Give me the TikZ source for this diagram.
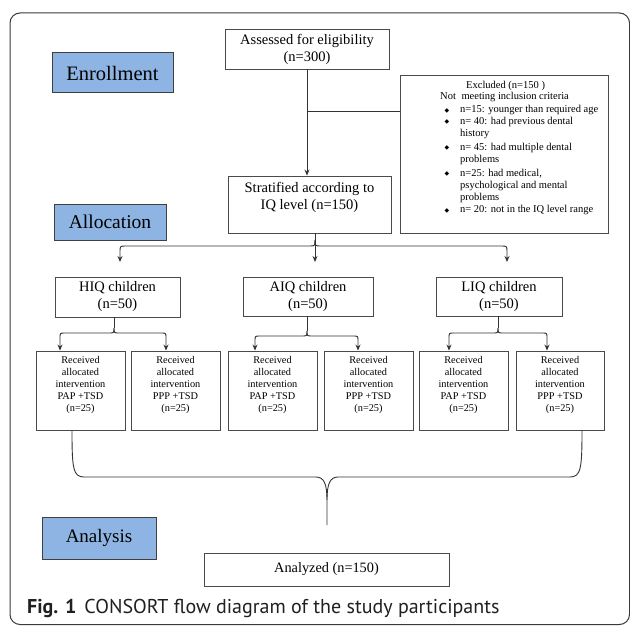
\documentclass[tikz,border=0pt]{standalone}
\usepackage{fontspec}
\setmainfont{Liberation Serif}
\newfontfamily\capfont{PT Sans}
\newfontfamily\symfont{DejaVu Sans}
\usetikzlibrary{arrows.meta,calc}
\definecolor{boxblue}{HTML}{8DB4E2}
\definecolor{phaseedge}{HTML}{404040}
\definecolor{edgegray}{HTML}{4A4A4A}
\definecolor{linegray}{HTML}{333333}
\definecolor{framegray}{HTML}{3A3A3A}
\definecolor{captext}{HTML}{231F20}
\newcommand\dpt[1]{\rule[-#1]{0pt}{#1}}
\newcommand\bul{\makebox[15.5pt][l]{\raisebox{0.6pt}{\symfont\fontsize{6}{6}\selectfont ◆}}}
\begin{document}
\begin{tikzpicture}[x=1pt,y=-1pt,
  box/.style={draw=edgegray,line width=0.9pt,rectangle,inner sep=0pt,align=center,text=black},
  phase/.style={draw=phaseedge,fill=boxblue,line width=1pt,rectangle,inner sep=0pt,text=black},
  conn/.style={draw=linegray,line width=0.9pt},
  arr/.style={conn,-{Stealth[length=6pt,width=5pt]}},
  exline/.style={anchor=base west,inner sep=0pt,font=\fontsize{10.5}{12}\selectfont},
  midtxt/.style={font=\fontsize{14.5}{17}\selectfont},
  subtxt/.style={font=\fontsize{10.3}{12}\selectfont,minimum width=89pt,minimum height=79pt}
]
\useasboundingbox (0,0) rectangle (630,626);
\fill[white] (0,0) rectangle (630,626);
\draw[draw=framegray,line width=1pt,rounded corners=10pt] (10,13) rectangle (629.5,624.5);

% phase labels
\node[phase,minimum width=121pt,minimum height=40pt,font=\fontsize{20.5}{24}\selectfont] (enroll) at (112.5,73) {Enrollment};
\node[phase,minimum width=112pt,minimum height=36pt,font=\fontsize{19.5}{23}\selectfont] (alloc) at (110,222) {Allocation};
\node[phase,minimum width=114pt,minimum height=42pt,font=\fontsize{19}{22}\selectfont] (analysis) at (99,538) {Analysis};

% main boxes
\node[box,midtxt,minimum width=164pt,minimum height=40pt] (assess) at (307,49) {Assessed for eligibility\\(n=300)};
\node[box,minimum width=208pt,minimum height=158pt] (excl) at (504,154) {};
\node[box,midtxt,minimum width=163pt,minimum height=57pt] (strat) at (309.5,204.5) {Stratified according to\\IQ level (n=150)\dpt{17.6pt}};

\node[box,midtxt,minimum width=125pt,minimum height=40pt] (hiq) at (117.5,297) {HIQ children\\(n=50)};
\node[box,midtxt,minimum width=130pt,minimum height=39pt] (aiq) at (308,296.5) {AIQ children\\(n=50)};
\node[box,midtxt,minimum width=126pt,minimum height=39pt] (liq) at (499,296.5) {LIQ children\\(n=50)};

\node[box,subtxt] (b1) at (80.5,390.5) {Received\\allocated\\intervention\\PAP +TSD\\(n=25)\dpt{12.3pt}};
\node[box,subtxt] (b2) at (175.5,390.5) {Received\\allocated\\intervention\\PPP +TSD\\(n=25)\dpt{12.3pt}};
\node[box,subtxt] (b3) at (272.5,390.5) {Received\\allocated\\intervention\\PAP +TSD\\(n=25)\dpt{12.3pt}};
\node[box,subtxt] (b4) at (368.5,390.5) {Received\\allocated\\intervention\\PPP +TSD\\(n=25)\dpt{12.3pt}};
\node[box,subtxt] (b5) at (463.5,390.5) {Received\\allocated\\intervention\\PAP +TSD\\(n=25)\dpt{12.3pt}};
\node[box,subtxt,minimum width=88pt] (b6) at (560,390.5) {Received\\allocated\\intervention\\PPP +TSD\\(n=25)\dpt{12.3pt}};

\node[box,minimum width=245pt,minimum height=33pt,font=\fontsize{14.3}{16}\selectfont] (analyzed) at (326.5,569.5) {Analyzed (n=150)};

% excluded box text
\node[exline] (ex0) at (466,88.5) {Excluded (n=150 )};
\node[exline] (ex1) at (440,99.2) {Not\hspace{3pt} meeting inclusion criteria};
\node[exline] (ex2) at (444.5,112.8) {\bul n=15: younger than required age};
\node[exline] (ex3) at (444.5,124.4) {\bul n= 40: had previous dental};
\node[exline] (ex4) at (460,136.6) {history};
\node[exline] (ex5) at (444.5,150.6) {\bul n= 45: had multiple dental};
\node[exline] (ex6) at (460,162.4) {problems};
\node[exline] (ex7) at (444.5,176.2) {\bul n=25: had medical,};
\node[exline] (ex8) at (460,188.2) {psychological and mental};
\node[exline] (ex9) at (460,200.0) {problems};
\node[exline] (ex10) at (444.5,212.8) {\bul n= 20: not in the IQ level range};

% enrollment connectors
\draw[arr] (assess.south) -- (assess.south |- strat.north);
\coordinate (j1) at (307,111);
\draw[conn] (j1) -- (j1 -| excl.west);

% stratified brace
\coordinate (s0) at (315,0 |- strat.south);
\coordinate (s1) at (315,240);
\coordinate (t1) at (120,262);
\coordinate (t2) at (315,262);
\coordinate (t3) at (507,262);
\draw[conn] (s0) -- (s1);
\draw[arr] (s1) .. controls (315,246) .. (309,246) -- (126,246) .. controls (120,246) .. (120,252) -- (t1);
\draw[arr] (s1) .. controls (315,246) .. (321,246) -- (501,246) .. controls (507,246) .. (507,252) -- (t3);
\draw[arr] (s1) -- (t2);

% HIQ brace
\coordinate (h1) at (114,328);
\draw[conn] (114,0 |- hiq.south) -- (h1);
\draw[arr] (h1) .. controls (114,333) .. (109,333) -- (65,333) .. controls (60,333) .. (60,338) -- (60,0 |- b1.north);
\draw[arr] (h1) .. controls (114,333) .. (119,333) -- (161,333) .. controls (166,333) .. (166,338) -- (166,0 |- b2.north);

% AIQ brace
\coordinate (a1) at (307,331);
\draw[conn] (307,0 |- aiq.south) -- (a1);
\draw[arr] (a1) .. controls (307,336) .. (302,336) -- (260,336) .. controls (255,336) .. (255,341) -- (255,0 |- b3.north);
\draw[arr] (a1) .. controls (307,336) .. (312,336) -- (353,336) .. controls (358,336) .. (358,341) -- (358,0 |- b4.north);

% LIQ brace
\coordinate (l1) at (498,328);
\draw[conn] (498,0 |- liq.south) -- (l1);
\draw[arr] (l1) .. controls (498,333) .. (493,333) -- (454,333) .. controls (449,333) .. (449,338) -- (449,0 |- b5.north);
\draw[arr] (l1) .. controls (498,333) .. (503,333) -- (542,333) .. controls (547,333) .. (547,338) -- (547,0 |- b6.north);

% analysis brace
\coordinate (cusp) at (327,525);
\draw[conn] (72,0 |- b1.south) .. controls (72,468) and (73,477) .. (84,477) -- (316,477) .. controls (324,477) and (327,484) .. (327,500) -- (cusp);
\draw[conn] (582,0 |- b6.south) .. controls (582,468) and (581,477) .. (570,477) -- (338,477) .. controls (330,477) and (327,484) .. (327,500);

% caption
\node[anchor=base west,inner sep=0pt,text=captext,font=\capfont\fontsize{20}{23}\selectfont] (cap) at (27,613) {\textbf{Fig. 1}\hspace{8pt}CONSORT flow diagram of the study participants};
\end{tikzpicture}
\end{document}
